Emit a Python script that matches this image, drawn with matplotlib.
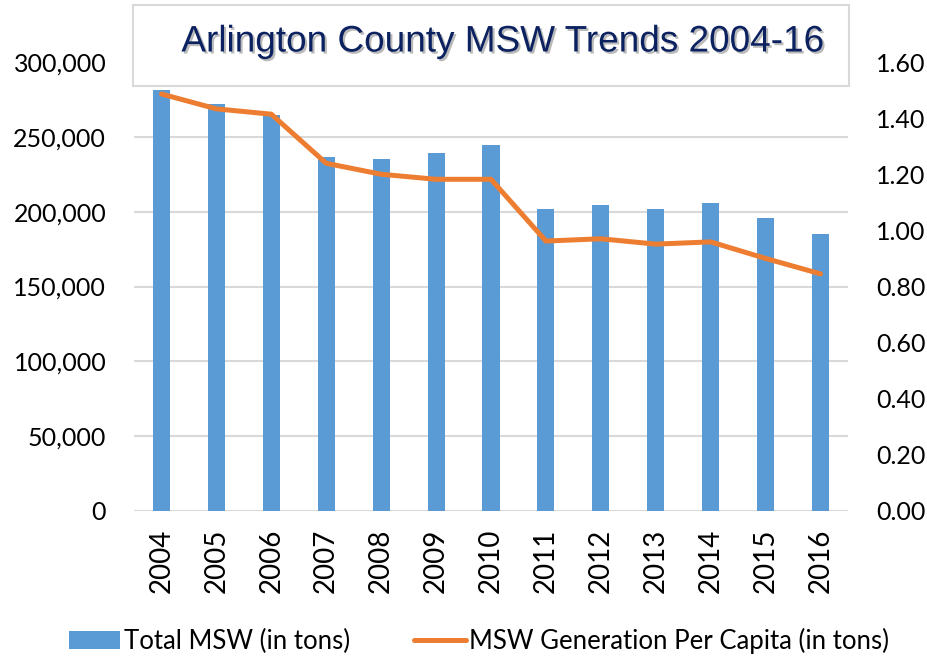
import numpy as np
import matplotlib
matplotlib.use('Agg')
import matplotlib.pyplot as plt
from matplotlib import patches
from matplotlib import patheffects
from matplotlib.ticker import FuncFormatter

years = ['2004', '2005', '2006', '2007', '2008', '2009', '2010',
         '2011', '2012', '2013', '2014', '2015', '2016']
total_msw = [281000, 272000, 264500, 236500, 235000, 239000, 244500,
             201500, 204500, 202000, 205500, 196000, 185000]
per_capita = [1.486, 1.433, 1.414, 1.239, 1.200, 1.182, 1.182,
              0.962, 0.970, 0.951, 0.959, 0.900, 0.845]

blue = '#5B9BD5'
orange = '#ED7D31'
grid_c = '#D9D9D9'
tick_font = 'Lato'

fig = plt.figure(figsize=(9.28, 6.57), dpi=100)
ax1 = fig.add_axes([134/928, 1-511/657, (848-134)/928, (511-62)/657])
ax2 = ax1.twinx()

x = np.arange(len(years))
bars = ax1.bar(x, total_msw, width=0.31, color=blue, zorder=2,
               label='Total MSW (in tons)')
line, = ax2.plot(x, per_capita, color=orange, lw=3.6, solid_capstyle='round',
                 label='MSW Generation Per Capita (in tons)')

ax1.set_xlim(-0.5, len(years) - 0.5)
ax1.set_ylim(0, 300000)
ax1.set_yticks(np.arange(0, 300001, 50000))
ax1.yaxis.set_major_formatter(FuncFormatter(lambda v, p: '{:,.0f}'.format(v)))
ax2.set_ylim(0, 1.6)
ax2.set_yticks(np.arange(0, 1.61, 0.2))
ax2.yaxis.set_major_formatter(FuncFormatter(lambda v, p: '%.2f' % v))

ax1.set_xticks(x)
ax1.set_xticklabels(years, rotation=90, fontsize=20, family=tick_font)
ax1.tick_params(axis='x', length=0, pad=13)
ax1.tick_params(axis='y', length=0, pad=20, labelsize=18)
ax2.tick_params(axis='y', length=0, pad=20, labelsize=18)
for lab in ax1.get_yticklabels() + ax2.get_yticklabels():
    lab.set_family(tick_font)

ax1.grid(axis='y', color=grid_c, lw=1.5, zorder=0)
ax1.set_axisbelow(True)
for ax in (ax1, ax2):
    for s in ax.spines.values():
        s.set_visible(False)

# title box
box = patches.Rectangle((133/928, 1-86/657), (849-133)/928, 81/657,
                        transform=fig.transFigure, facecolor='white',
                        edgecolor='#D9D9D9', lw=1.5, zorder=5)
fig.patches.append(box)
t = fig.text(502/928, 1-42/657, 'Arlington County MSW Trends 2004-16',
             ha='center', va='center', fontsize=26.6, color='#0B2160',
             family='Liberation Sans', zorder=6)
t.set_path_effects([patheffects.withSimplePatchShadow(offset=(1.5, -1.5),
                    shadow_rgbFace='#777777', alpha=0.5)])

fig.legend(handles=[bars, line], loc='center', bbox_to_anchor=(479/928, 1-641/657),
           ncol=2, frameon=False, prop={'family': tick_font, 'size': 18.5},
           handlelength=2.0, handletextpad=0.15, columnspacing=2.5)

plt.savefig('out.png', dpi=100)
